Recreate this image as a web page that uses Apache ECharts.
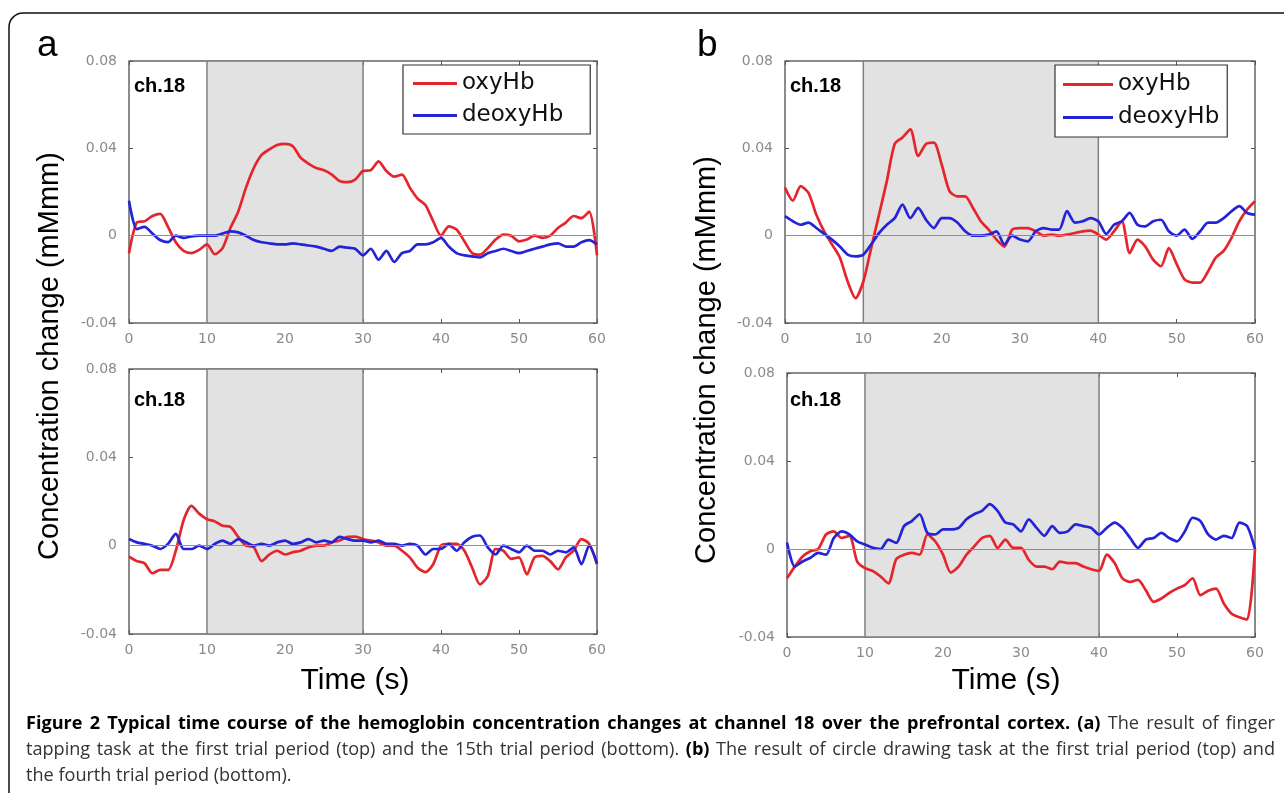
<!DOCTYPE html>
<html><head><meta charset="utf-8">
<script src="https://cdn.jsdelivr.net/npm/echarts@6/dist/echarts.min.js"></script>
<style>html,body{margin:0;padding:0;background:#fff}#c{width:1284px;height:793px}</style>
</head><body><div id="c"></div>
<script>
// ---------- data ----------
const time = [0,1,2,3,4,5,6,7,8,9,10,11,12,13,14,15,16,17,18,19,20,21,22,23,24,25,26,27,28,29,30,31,32,33,34,35,36,37,38,39,40,41,42,43,44,45,46,47,48,49,50,51,52,53,54,55,56,57,58,59,60];
const xTicks = [0,10,20,30,40,50,60];
const yTicks = [-0.04,0,0.04,0.08];

const aTopOxy = [-0.008,0.006,0.0066,0.009,0.010,0.004,-0.003,-0.007,-0.008,-0.0065,
  -0.004,-0.0085,-0.0057,0.0035,0.011,0.022,0.031,0.037,0.0395,0.0415,
  0.042,0.041,0.0357,0.033,0.031,0.030,0.028,0.025,0.0245,0.0257,
  0.0296,0.030,0.034,0.0296,0.027,0.028,0.022,0.017,0.014,0.0066,
  0,0.0043,0.0028,-0.0026,-0.008,-0.0087,-0.0057,-0.0018,0.0005,0,
  -0.0026,-0.0018,0,-0.001,0,0.0035,0.006,0.009,0.008,0.011,-0.009];
const aTopDeoxy = [0.016,0.003,0.004,0.001,-0.002,-0.003,0,-0.001,-0.0003,0,
  0,0,0.001,0.002,0.0015,0,-0.002,-0.003,-0.0035,-0.004,
  -0.004,-0.0035,-0.004,-0.0045,-0.005,-0.006,-0.007,-0.005,-0.0055,-0.006,
  -0.009,-0.006,-0.011,-0.007,-0.012,-0.008,-0.007,-0.004,-0.004,-0.003,
  -0.001,-0.005,-0.008,-0.009,-0.0095,-0.010,-0.008,-0.007,-0.006,-0.007,
  -0.008,-0.007,-0.006,-0.005,-0.004,-0.0035,-0.005,-0.005,-0.003,-0.002,-0.004];
const bTopOxy = [0.022,0.016,0.0227,0.0196,0.0096,0.002,-0.004,-0.010,-0.021,-0.0286,
  -0.021,-0.0057,0.0096,0.025,0.042,0.045,0.0487,0.0365,0.042,0.0426,
  0.0326,0.0204,0.018,0.018,0.0127,0.0066,0.0028,-0.0018,-0.005,0.0028,
  0.0035,0.0035,0.002,0,0.0005,0,0.0005,0.0012,0.002,0.0023,
  0.0005,-0.0018,0.002,0.0066,-0.008,-0.0018,-0.005,-0.011,-0.014,-0.0057,
  -0.013,-0.020,-0.0215,-0.0215,-0.0164,-0.010,-0.007,-0.001,0.0066,0.012,0.0158];
const bTopDeoxy = [0.0089,0.0066,0.005,0.006,0.0035,0.0008,-0.0018,-0.005,-0.0087,-0.0095,
  -0.0087,-0.004,0.0012,0.005,0.008,0.0142,0.008,0.0127,0.0073,0.0035,
  0.008,0.008,0.006,0.002,0,0,0.0005,0.002,-0.004,0,
  -0.0018,-0.0026,0.002,0.0035,0.0028,0.0028,0.0112,0.006,0.0066,0.008,
  0.0066,0.0008,0.005,0.0066,0.0104,0.005,0.0043,0.0066,0.0073,0.002,
  0,0.0028,-0.0015,0.002,0.006,0.006,0.008,0.0112,0.0135,0.0104,0.0096];
const aBotOxy = [-0.005,-0.007,-0.008,-0.0125,-0.011,-0.011,-0.0023,0.0115,0.018,0.0145,
  0.012,0.011,0.009,0.0085,0.004,0,-0.0007,-0.007,-0.004,-0.0023,
  -0.004,-0.003,-0.0023,-0.0008,0,0,0.0015,0.0023,0.004,0.0041,
  0.003,0.0023,0.0015,0,0,-0.0023,-0.0053,-0.010,-0.012,-0.0084,
  0,0.0008,0.0008,-0.0023,-0.010,-0.0175,-0.0137,-0.0015,-0.0023,-0.006,
  -0.0053,-0.013,-0.0053,-0.0046,-0.007,-0.0107,-0.0053,-0.0023,0.003,0.0008,-0.0084];
const aBotDeoxy = [0.003,0.0015,0.0008,0,-0.0015,0.0008,0.0053,-0.0015,-0.0015,0,
  -0.0015,0.0008,0.0023,0.0008,0.003,0.0015,0,0.0008,0,0.0015,
  0.0023,0.0008,0.0015,0.003,0.0015,0.0023,0.0015,0.004,0.003,0.0023,
  0.0023,0.0015,0.0023,0.0008,0.0008,0,0.0008,0,-0.004,-0.0015,
  -0.0015,0.0008,-0.0023,0.0015,0.004,0.0046,-0.0008,-0.004,0,-0.0015,
  -0.003,0,-0.0023,-0.0023,-0.004,-0.0023,-0.003,-0.0008,-0.0084,0,-0.008];
const bBotOxy = [-0.0133,-0.008,-0.0034,-0.001,0,0.0066,0.008,0.005,0.006,-0.0057,
  -0.0087,-0.010,-0.0125,-0.0156,-0.0046,-0.0026,-0.0018,-0.0026,0.0066,0.0035,
  -0.0026,-0.0107,-0.008,-0.0026,0.0012,0.005,0.006,0.0005,0.0043,0.0005,
  0.0005,-0.005,-0.008,-0.008,-0.0092,-0.0057,-0.0064,-0.0064,-0.008,-0.0092,
  -0.010,-0.0026,-0.0064,-0.0133,-0.015,-0.014,-0.0187,-0.024,-0.0225,-0.020,
  -0.018,-0.0164,-0.0133,-0.021,-0.019,-0.018,-0.0248,-0.0294,-0.031,-0.032,0];
const bBotDeoxy = [0.003,-0.008,-0.0057,-0.004,-0.0018,-0.0026,0.005,0.008,0.0066,0.0035,
  0.002,0.0005,0,0.0043,0.0028,0.0104,0.0127,0.0158,0.0073,0.0066,
  0.0089,0.0089,0.0096,0.0135,0.0158,0.0173,0.0204,0.0173,0.012,0.0112,
  0.008,0.0135,0.0096,0.006,0.0104,0.0073,0.008,0.0112,0.0104,0.0096,
  0.0066,0.0096,0.012,0.0096,0.005,0.0005,0.0043,0.005,0.0073,0.005,
  0.0035,0.008,0.0142,0.0127,0.0066,0.0043,0.006,0.005,0.012,0.0104,0];

const taskA = [10, 30];   // shaded task period, panel a
const taskB = [10, 40];   // shaded task period, panel b
const seriesNames = ['oxyHb', 'deoxyHb'];
const channelLabel = 'ch.18';
const yTitle = 'Concentration change (mMmm)';
const xTitle = 'Time (s)';
const captionLines = [
  [['Figure 2 Typical time course of the hemoglobin concentration changes at channel 18 over the prefrontal cortex. (a)', true], ['The result of finger', false]],
  [['tapping task at the first trial period (top) and the 15th trial period (bottom).', false], ['(b)', true], ['The result of circle drawing task at the first trial period (top) and', false]],
  [['the fourth trial period (bottom).', false]]
];

// ---------- layout ----------
const RED = '#e4262c', BLUE = '#2323d8';
const SANS = "'Liberation Sans', Arial, sans-serif";
const TICKFONT = "'DejaVu Sans', sans-serif";
const panels = [
  {grid:{left:129, top:61, width:468, height:262}, oxy:aTopOxy, deoxy:aTopDeoxy, task:taskA},
  {grid:{left:785, top:61, width:470, height:262}, oxy:bTopOxy, deoxy:bTopDeoxy, task:taskB},
  {grid:{left:129, top:369, width:468, height:265}, oxy:aBotOxy, deoxy:aBotDeoxy, task:taskA},
  {grid:{left:787, top:373, width:468, height:264}, oxy:bBotOxy, deoxy:bBotDeoxy, task:taskB}
];

const grids = [], xAxes = [], yAxes = [], series = [];
const pair = arr => arr.map((v, i) => [time[i], v]);
const tickStyle = {show:true, inside:true, length:4, lineStyle:{color:'#555', width:1}};
const noLine = {show:false, onZero:false};
panels.forEach((p, g) => {
  grids.push(Object.assign({show:true, borderColor:'#666', borderWidth:1.5, backgroundColor:'#fff'}, p.grid));
  xAxes.push({type:'value', gridIndex:g, position:'bottom', min:xTicks[0], max:xTicks[xTicks.length-1], interval:10,
    axisLine:noLine, splitLine:{show:false}, axisTick:tickStyle,
    axisLabel:{color:'#8a8a8a', fontSize:14, fontFamily:TICKFONT, margin:9}});
  xAxes.push({type:'value', gridIndex:g, position:'top', min:xTicks[0], max:xTicks[xTicks.length-1], interval:10,
    axisLine:noLine, splitLine:{show:false}, axisTick:tickStyle, axisLabel:{show:false}});
  yAxes.push({type:'value', gridIndex:g, position:'left', min:yTicks[0], max:yTicks[yTicks.length-1], interval:0.04,
    axisLine:noLine, splitLine:{show:false}, axisTick:tickStyle,
    axisLabel:{color:'#8a8a8a', fontSize:14, fontFamily:TICKFONT, margin:12,
      formatter: v => Math.abs(v) < 1e-9 ? '0' : v.toFixed(2)}});
  yAxes.push({type:'value', gridIndex:g, position:'right', min:yTicks[0], max:yTicks[yTicks.length-1], interval:0.04,
    axisLine:noLine, splitLine:{show:false}, axisTick:tickStyle, axisLabel:{show:false}});
  series.push({type:'line', name:'task', xAxisIndex:2*g, yAxisIndex:2*g, data:[], silent:true, z:1,
    markArea:{silent:true, itemStyle:{color:'#e2e2e2', borderColor:'#808080', borderWidth:1.5},
      data:[[{xAxis:p.task[0]},{xAxis:p.task[1]}]]},
    markLine:{silent:true, symbol:'none', label:{show:false}, animation:false,
      lineStyle:{color:'#8f8f8f', width:1.2, type:'solid'}, data:[{yAxis:0}]}});
  series.push({type:'line', name:seriesNames[0], xAxisIndex:2*g, yAxisIndex:2*g, data:pair(p.oxy),
    showSymbol:false, smooth:0.25, z:3, lineStyle:{color:RED, width:2.7}, itemStyle:{color:RED}});
  series.push({type:'line', name:seriesNames[1], xAxisIndex:2*g, yAxisIndex:2*g, data:pair(p.deoxy),
    showSymbol:false, smooth:0.25, z:4, lineStyle:{color:BLUE, width:2.7}, itemStyle:{color:BLUE}});
});

const legendBase = {data:seriesNames, orient:'vertical', icon:'rect', itemHeight:3,
  borderColor:'#333', borderWidth:1.2, backgroundColor:'#fff', selectedMode:false, z:10,
  textStyle:{fontSize:23, color:'#111', fontFamily:TICKFONT}};
const legends = [
  Object.assign({}, legendBase, {left:403, top:65, itemWidth:44, itemGap:9, padding:[7,27,7,10]}),
  Object.assign({}, legendBase, {left:1055, top:65, itemWidth:50, itemGap:10, padding:[8,8,8,8]})
];

const texts = [];
const addText = (x, y, txt, font, extra) => texts.push(Object.assign({type:'text', x:x, y:y, z:20,
  style:Object.assign({text:txt, font:font, fill:'#000', textAlign:'left', textVerticalAlign:'middle'}, extra||{})}));
addText(37, 46, 'a', "37px " + SANS);
addText(697, 46, 'b', "37px " + SANS);
addText(134, 86, channelLabel, "bold 20px " + SANS);
addText(790, 86, channelLabel, "bold 20px " + SANS);
addText(134, 400, channelLabel, "bold 20px " + SANS);
addText(790, 400, channelLabel, "bold 20px " + SANS);
addText(355, 681, xTitle, "30px " + SANS, {textAlign:'center'});
addText(1006, 681, xTitle, "30px " + SANS, {textAlign:'center'});
texts.push({type:'text', x:50, y:356, rotation:Math.PI/2, z:20,
  style:{text:yTitle, font:"29px " + SANS, fill:'#000', textAlign:'center', textVerticalAlign:'middle'}});
texts.push({type:'text', x:707, y:360, rotation:Math.PI/2, z:20,
  style:{text:yTitle, font:"29px " + SANS, fill:'#000', textAlign:'center', textVerticalAlign:'middle'}});

// caption: justified lines, word by word
const CAP = "'Open Sans', 'Noto Sans', sans-serif";
const mctx = document.createElement('canvas').getContext('2d');
const capLeft = 26, capRight = 1275, lastLineWidth = 266;
mctx.font = '100px ' + CAP;
const capSize = Math.round(100 * lastLineWidth / mctx.measureText(captionLines[2][0][0]).width * 10) / 10;
const capFont = b => (b ? 'bold ' : '') + capSize + 'px ' + CAP;
const measure = (s, b) => { mctx.font = capFont(b); return mctx.measureText(s).width; };
captionLines.forEach((segs, li) => {
  const words = [];
  segs.forEach(([s, b]) => s.split(' ').forEach(w => words.push({w:w, b:b, width:measure(w, b)})));
  const total = words.reduce((a, o) => a + o.width, 0);
  const justify = li < captionLines.length - 1;
  const gap = justify ? (capRight - capLeft - total) / (words.length - 1) : measure(' ', false);
  let x = capLeft;
  words.forEach(o => {
    texts.push({type:'text', x:x, y:724 + li*26, z:20,
      style:{text:o.w, font:capFont(o.b), fill:o.b ? '#000' : '#333', textVerticalAlign:'middle'}});
    x += o.width + gap;
  });
});

texts.push({type:'rect', z:0, shape:{x:9, y:13, width:1400, height:900, r:14},
  style:{fill:'none', stroke:'#111', lineWidth:1.5}});

const chart = echarts.init(document.getElementById('c'), null, {renderer:'canvas'});
chart.setOption({
  animation:false,
  backgroundColor:'#fff',
  grid:grids, xAxis:xAxes, yAxis:yAxes, series:series, legend:legends,
  graphic:{elements:texts}
});
</script></body></html>
